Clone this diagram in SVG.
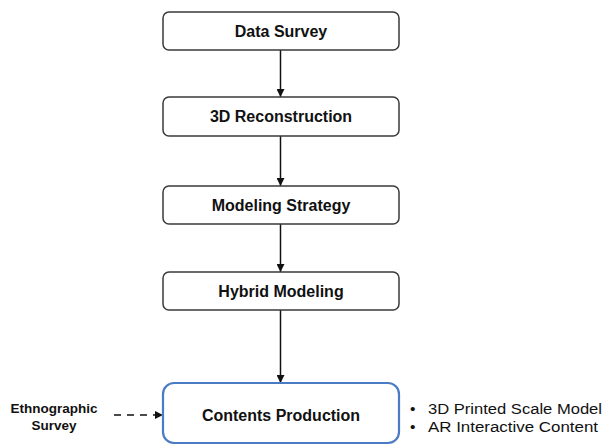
<svg xmlns="http://www.w3.org/2000/svg" width="608" height="446" viewBox="0 0 608 446">
<style>
.box{fill:#fff;stroke:#3a3a3a;stroke-width:1.5}
.blue{fill:#fff;stroke:#4a7bc4;stroke-width:2.2}
.t{font-family:"Liberation Sans",Arial,sans-serif;font-weight:bold;font-size:16px;fill:#111;text-anchor:middle}
.s{font-family:"Liberation Sans",Arial,sans-serif;font-weight:bold;font-size:13.5px;fill:#111;text-anchor:middle}
.b{font-family:"Liberation Sans",Arial,sans-serif;font-size:15.5px;fill:#111}
.c{stroke:#111;stroke-width:1.5;fill:none}
</style>
<defs>
<marker id="ah" viewBox="0 0 10 10" refX="10" refY="5" markerWidth="8" markerHeight="8" markerUnits="userSpaceOnUse" orient="auto">
<path d="M0,0 L10,5 L0,10 z" fill="#111"/>
</marker>
</defs>
<rect width="608" height="446" fill="#fff"/>
<g id="connectors">
<line class="c" x1="280.5" y1="50" x2="280.5" y2="97" marker-end="url(#ah)"/>
<line class="c" x1="280.5" y1="136" x2="280.5" y2="186" marker-end="url(#ah)"/>
<line class="c" x1="280.5" y1="224" x2="280.5" y2="272" marker-end="url(#ah)"/>
<line class="c" x1="280.5" y1="310" x2="280.5" y2="383" marker-end="url(#ah)"/>
<line class="c" x1="114" y1="415" x2="163" y2="415" stroke-width="2" stroke-dasharray="7,6" marker-end="url(#ah)"/>
</g>
<g id="n1"><rect class="box" x="163" y="12" width="236" height="38" rx="6"/><text class="t" x="281" y="37">Data Survey</text></g>
<g id="n2"><rect class="box" x="163" y="97" width="236" height="39" rx="6"/><text class="t" x="281" y="122">3D Reconstruction</text></g>
<g id="n3"><rect class="box" x="163" y="186" width="236" height="38" rx="6"/><text class="t" x="281" y="211">Modeling Strategy</text></g>
<g id="n4"><rect class="box" x="163" y="272" width="236" height="38" rx="6"/><text class="t" x="281" y="297">Hybrid Modeling</text></g>
<g id="n5"><rect class="blue" x="163" y="383" width="236" height="60" rx="11"/><text class="t" x="281" y="421">Contents Production</text></g>
<g id="n6"><text class="s" x="54" y="413">Ethnographic</text><text class="s" x="54" y="430">Survey</text></g>
<g id="n7"><text class="b" x="410" y="414">•</text><text class="b" x="428" y="414" textLength="174" lengthAdjust="spacingAndGlyphs">3D Printed Scale Model</text><text class="b" x="410" y="432">•</text><text class="b" x="428" y="432" textLength="170" lengthAdjust="spacingAndGlyphs">AR Interactive Content</text></g>
</svg>
